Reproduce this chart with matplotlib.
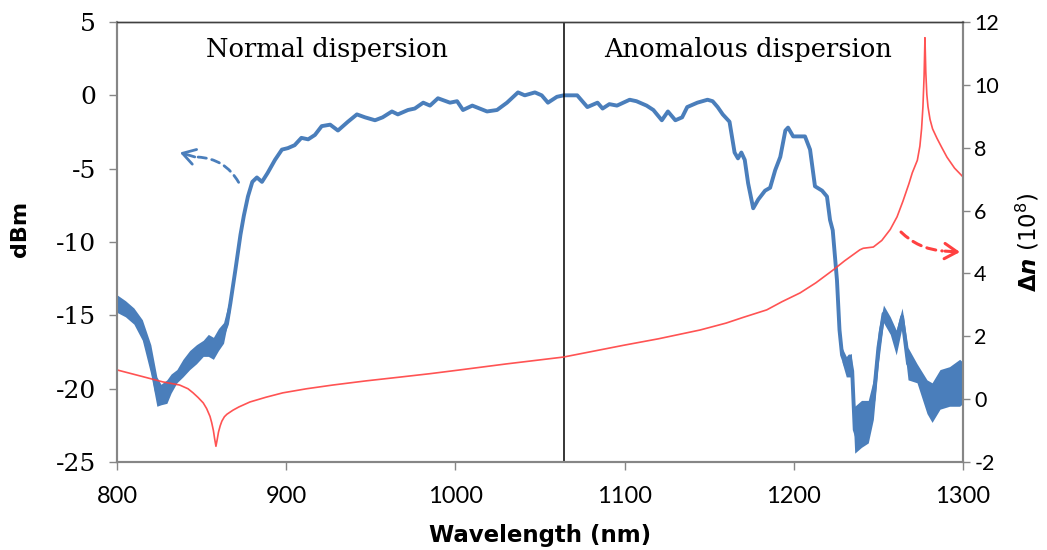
import numpy as np
import matplotlib
matplotlib.use("Agg")
import matplotlib.pyplot as plt
from matplotlib.patches import FancyArrowPatch

plt.rcParams['axes.unicode_minus'] = False

# Measured output spectrum (dBm) - centre line
wl_b = [800, 803, 806, 810, 815, 820, 823.6, 826, 829.5, 832, 835.4, 839, 843, 847, 851, 854,
        857, 860, 863, 865, 867, 870, 873, 875, 877.4, 880, 882.7, 885.7, 889, 893.4, 897.5,
        901, 905, 909, 913, 917, 921, 926, 930.6, 936.5, 941.8, 946.6, 952.5, 957, 962.5, 966,
        972, 976, 981, 985, 989.7, 996.8, 1001, 1004.5, 1010, 1018.7, 1024.6, 1030.5, 1037,
        1041, 1047, 1051, 1054.7, 1060, 1064, 1072, 1078, 1084, 1087, 1091, 1095.5, 1103,
        1107, 1113, 1117, 1122, 1125.6, 1130, 1134, 1137, 1143, 1149, 1152, 1155, 1158, 1162,
        1165, 1167, 1169, 1171, 1173, 1176, 1179, 1183, 1186, 1189, 1192, 1195, 1196.6,
        1199.6, 1203.7, 1206.6, 1209.6, 1212.5, 1216.7, 1219.6, 1221.4, 1223, 1225.5, 1227,
        1228.5, 1231, 1233, 1234.5, 1236, 1238, 1240, 1242, 1244, 1247, 1250, 1253, 1257,
        1260.5, 1264, 1267.5, 1272.8, 1278.7, 1281.7, 1286.4, 1292, 1298, 1300]
dbm_b = [-14.3, -14.6, -14.5, -15.2, -16.0, -18.0, -20.2, -20.4, -20.2, -19.6, -19.2, -18.6,
         -18.0, -17.6, -17.2, -17.0, -17.2, -16.6, -16.2, -15.6, -14.2, -11.9, -9.5, -8.2,
         -6.9, -5.9, -5.6, -5.9, -5.3, -4.4, -3.7, -3.6, -3.4, -2.9, -3.0, -2.7, -2.1, -2.0,
         -2.4, -1.8, -1.3, -1.5, -1.7, -1.5, -1.1, -1.3, -1.0, -0.9, -0.5, -0.7, -0.2, -0.5,
         -0.4, -1.0, -0.7, -1.1, -1.0, -0.5, 0.2, 0.0, 0.2, 0.0, -0.5, -0.1, 0.0, 0.0, -0.8,
         -0.5, -0.9, -0.6, -0.7, -0.3, -0.4, -0.7, -1.0, -1.7, -1.1, -1.7, -1.5, -0.8, -0.5,
         -0.3, -0.4, -0.8, -1.3, -1.8, -3.9, -4.3, -3.9, -4.4, -6.0, -7.7, -7.1, -6.5, -6.3,
         -5.1, -4.2, -2.4, -2.2, -2.8, -2.8, -2.8, -3.7, -6.2, -6.5, -6.9, -8.5, -9.2, -12.6,
         -16.0, -17.7, -18.5, -17.8, -18.8, -22.8, -23.5, -22.4, -22.0, -22.2, -20.8, -17.2,
         -14.9, -15.7, -16.8, -15.1, -18.3, -18.9, -20.5, -21.0, -20.0, -19.8, -19.6, -19.6]

# Noise envelope of the spectrum (read as lower / upper edges)
wl_na = [800, 805, 810, 815, 820, 823.6, 826, 829.5, 832, 835.4, 839, 843, 847, 851, 854,
         857, 860, 863, 867]
lo_na = [-14.8, -15.1, -15.6, -16.7, -19.0, -21.2, -21.1, -21.0, -20.3, -19.6, -19.2, -18.7,
         -18.3, -17.8, -17.8, -18.0, -17.4, -16.9, -14.6]
hi_na = [-13.6, -14.0, -14.5, -15.3, -17.0, -19.2, -19.7, -19.4, -19.0, -18.7, -18.0, -17.4,
         -17.0, -16.7, -16.3, -16.5, -15.9, -15.5, -13.7]
wl_nb = [1228.5, 1231, 1234, 1236, 1240, 1244, 1247, 1250, 1253, 1257, 1260.5, 1264, 1267.5,
         1272.8, 1278.7, 1281.7, 1286.4, 1292, 1298, 1300]
lo_nb = [-18.2, -19.2, -19.2, -24.4, -24.0, -23.7, -22.1, -18.3, -15.5, -16.3, -17.7, -15.8,
         -19.4, -19.6, -21.7, -22.3, -21.4, -21.2, -21.2, -21.0]
hi_nb = [-17.2, -17.8, -17.6, -21.2, -20.8, -20.8, -19.4, -16.0, -14.3, -15.1, -16.0, -14.5,
         -17.2, -18.3, -19.4, -19.6, -18.7, -18.5, -18.0, -18.2]

# Refractive index change (10^8)
wl_r = [800, 815, 827, 837, 842, 845, 848, 851, 853, 855, 856, 857, 857.7, 858.5, 859.2, 860,
        861, 862, 863.5, 865, 868.6, 872, 878.6, 888, 898, 912, 927.7, 947, 967, 985, 1002.7,
        1030, 1064, 1100, 1120, 1144.6, 1160, 1170, 1184, 1193, 1203.7, 1213, 1223, 1230,
        1239, 1241, 1247, 1252, 1257, 1261, 1264.5, 1268, 1270, 1273, 1274.5, 1275.5, 1276.3,
        1277, 1277.5, 1278, 1278.6, 1279.3, 1280.5, 1282, 1284.6, 1287.5, 1290.5, 1295, 1300]
dn_r = [0.93, 0.72, 0.55, 0.45, 0.33, 0.2, 0.05, -0.12, -0.3, -0.55, -0.75, -1.0, -1.25, -1.5,
        -1.3, -1.05, -0.85, -0.7, -0.56, -0.48, -0.35, -0.25, -0.09, 0.06, 0.2, 0.33, 0.45,
        0.58, 0.7, 0.81, 0.93, 1.12, 1.34, 1.72, 1.92, 2.2, 2.42, 2.6, 2.84, 3.1, 3.38, 3.7,
        4.1, 4.4, 4.75, 4.8, 4.84, 5.05, 5.4, 5.8, 6.3, 6.85, 7.2, 7.6, 8.05, 8.6, 9.3, 10.3,
        11.5, 10.4, 9.7, 9.3, 8.9, 8.6, 8.3, 8.0, 7.7, 7.35, 7.07]

pump_wl = 1064
blue = '#4a7ebb'
red = '#ff4040'

fig = plt.figure(figsize=(10.47, 5.5), dpi=100)
ax = fig.add_axes([0.1117, 0.16, 0.8081, 0.80])
ax2 = ax.twinx()

ax.fill_between(wl_na, lo_na, hi_na, color=blue, lw=0)
ax.fill_between(wl_nb, lo_nb, hi_nb, color=blue, lw=0)
ax.plot(wl_b, dbm_b, color=blue, lw=2.8, solid_joinstyle='round')
ax.axvline(pump_wl, color='black', lw=1.1)

ax2.plot(wl_r, dn_r, color=red, lw=1.2, alpha=0.9)

ax.set_xlim(800, 1300)
ax.set_ylim(-25, 5)
ax2.set_ylim(-2, 12)
ax.set_xticks(range(800, 1301, 100))
ax.set_yticks(range(-25, 6, 5))
ax2.set_yticks(range(-2, 13, 2))

for a in (ax, ax2):
    for s in a.spines.values():
        s.set_color('#868686')
        s.set_linewidth(1.5)
    a.spines['top'].set_color('#404040')
    a.spines['top'].set_linewidth(1.0)

ax.tick_params(axis='x', direction='out', length=6, width=1, color='#868686', pad=11,
               labelsize=17)
ax.tick_params(axis='y', direction='out', length=6, width=1, color='#868686', pad=9,
               labelsize=18)
ax2.tick_params(axis='y', direction='out', length=5, width=1, color='#868686', pad=3,
                labelsize=15.5)
for lab in ax.get_yticklabels():
    lab.set_family('DejaVu Serif')
for lab in ax.get_xticklabels() + ax2.get_yticklabels():
    lab.set_family('Lato')

ax.set_xlabel('Wavelength (nm)', fontsize=16.5, fontweight='bold')
ax.xaxis.set_label_coords(0.5, -0.14)
ax.set_ylabel('dBm', fontsize=16, fontweight='bold')
ax.yaxis.set_label_coords(-0.103, 0.53)
ax2.set_ylabel(r'$\mathbf{\Delta}\mathbfit{n}$ (10$^8$)', fontsize=16.5)
ax2.yaxis.set_label_coords(1.06, 0.5)

ax.text(924, 3.1, 'Normal dispersion', family='DejaVu Serif', fontsize=18.5,
        ha='center', va='center')
ax.text(1173, 3.1, 'Anomalous dispersion', family='DejaVu Serif', fontsize=18.5,
        ha='center', va='center')

# dashed arrows pointing to each axis
head = '->,head_length=0.9,head_width=0.55'
ax.add_patch(FancyArrowPatch((872.7, -6.1), (846, -4.2), arrowstyle='-',
                             connectionstyle='arc3,rad=0.3', color=blue, lw=2,
                             linestyle=(0, (3, 2))))
ax.annotate('', xy=(837.2, -3.9), xytext=(846, -4.2),
            arrowprops=dict(arrowstyle=head, color=blue, lw=2, shrinkA=0, shrinkB=0))
ax2.add_patch(FancyArrowPatch((1262.2, 5.38), (1289.4, 4.71), arrowstyle='-',
                              connectionstyle='arc3,rad=0.2', color=red, lw=2.2,
                              linestyle=(0, (3, 2))))
ax2.annotate('', xy=(1298.2, 4.68), xytext=(1289.4, 4.71),
             arrowprops=dict(arrowstyle=head, color=red, lw=2.2, shrinkA=0, shrinkB=0))

fig.savefig('out.png', dpi=100)
